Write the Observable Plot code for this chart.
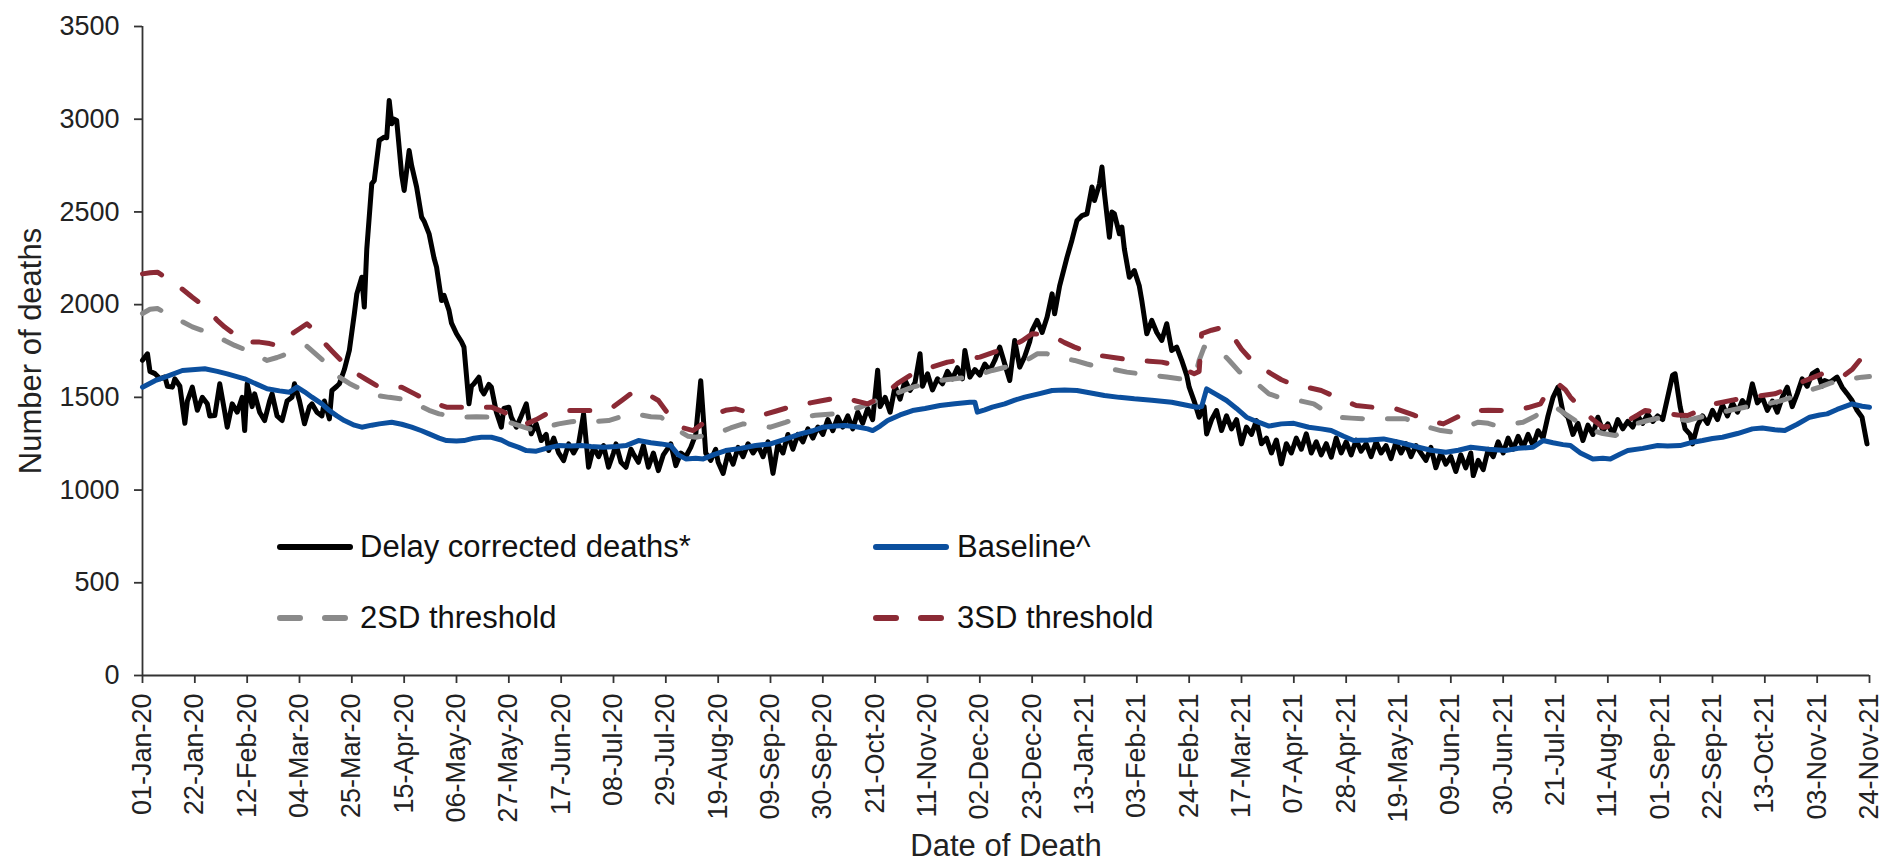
<!DOCTYPE html>
<html>
<head>
<meta charset="utf-8">
<script src="https://cdn.jsdelivr.net/npm/d3@7"></script>
<script src="https://cdn.jsdelivr.net/npm/@observablehq/plot@0.6"></script>
<style>
  html, body { margin: 0; padding: 0; background: #fff; }
  #chart { position: relative; width: 1883px; height: 868px; font-family: "Liberation Sans", Arial, sans-serif; }
  .legend-item { position: absolute; display: flex; align-items: center; height: 40px; }
  .legend-item span { font-size: 31px; color: #111; white-space: nowrap; }
</style>
</head>
<body>
<div id="chart"></div>
<script>
// ---- Data (day offset from start date, value) ----
const startDate = "2020-01-01";
const endDay = 693;          // 24-Nov-21
const tickStepDays = 21;
const yTicks = [0, 500, 1000, 1500, 2000, 2500, 3000, 3500];

const seriesNames = ["Delay corrected deaths*", "Baseline^", "2SD threshold", "3SD threshold"];

const delayCorrectedDeaths = [
[0,1700],[2,1735],[3,1640],[5,1628],[7,1600],[9,1610],[10,1560],[12,1555],[13,1600],[15,1560],[17,1360],[18,1480],[20,1555],[22,1430],[24,1500],[26,1465],[27,1400],[29,1402],[31,1573],[33,1420],[34,1339],[36,1465],[38,1420],[40,1500],[41,1321],[42,1573],[44,1450],[45,1519],[47,1420],[49,1375],[51,1480],[52,1519],[54,1400],[56,1375],[58,1480],[60,1500],[61,1573],[63,1480],[65,1358],[67,1450],[68,1465],[70,1420],[72,1400],[73,1480],[75,1384],[76,1537],[78,1560],[79,1573],[81,1650],[83,1753],[85,1950],[86,2058],[88,2148],[89,1987],[90,2300],[92,2652],[93,2670],[95,2886],[97,2903],[98,2900],[99,3101],[100,2975],[101,3000],[102,2993],[104,2700],[105,2616],[107,2831],[108,2750],[110,2634],[112,2472],[113,2450],[115,2382],[117,2250],[118,2202],[120,2022],[121,2050],[123,1969],[124,1900],[126,1843],[128,1800],[129,1771],[131,1465],[132,1560],[133,1573],[135,1609],[136,1540],[137,1519],[139,1570],[140,1555],[142,1420],[144,1339],[145,1440],[147,1447],[148,1393],[150,1339],[152,1400],[154,1465],[156,1303],[158,1357],[160,1267],[162,1300],[163,1213],[165,1280],[167,1200],[169,1159],[171,1249],[173,1200],[175,1250],[177,1411],[179,1123],[181,1231],[183,1180],[185,1240],[187,1123],[189,1200],[190,1249],[192,1150],[194,1123],[196,1220],[197,1195],[199,1150],[201,1240],[203,1123],[205,1200],[207,1105],[209,1190],[212,1249],[214,1132],[216,1200],[218,1180],[220,1230],[222,1300],[224,1590],[225,1400],[226,1200],[228,1160],[230,1220],[231,1150],[233,1090],[235,1200],[237,1140],[239,1230],[241,1180],[243,1250],[245,1200],[247,1240],[249,1180],[251,1260],[253,1090],[255,1250],[257,1200],[259,1300],[261,1220],[263,1300],[265,1260],[267,1330],[269,1280],[271,1340],[273,1300],[275,1380],[277,1320],[279,1393],[281,1340],[283,1400],[285,1330],[287,1420],[289,1360],[291,1440],[293,1380],[295,1646],[296,1450],[298,1500],[300,1420],[302,1560],[304,1490],[306,1591],[308,1537],[310,1580],[312,1735],[313,1560],[315,1627],[317,1540],[319,1600],[321,1573],[323,1640],[325,1600],[327,1660],[329,1600],[330,1753],[332,1609],[334,1650],[336,1620],[338,1680],[340,1645],[342,1700],[344,1771],[346,1680],[348,1591],[350,1807],[352,1663],[354,1720],[356,1800],[357,1861],[359,1915],[361,1850],[363,1933],[365,2058],[366,1951],[368,2100],[371,2256],[373,2350],[375,2454],[377,2480],[379,2490],[381,2634],[382,2562],[384,2650],[385,2742],[386,2600],[388,2364],[389,2500],[390,2490],[392,2382],[393,2418],[394,2300],[396,2148],[398,2184],[400,2100],[401,2022],[403,1843],[405,1915],[407,1850],[409,1807],[411,1897],[413,1753],[415,1771],[417,1700],[419,1620],[420,1555],[422,1480],[424,1393],[426,1450],[427,1303],[429,1380],[431,1429],[433,1321],[435,1400],[437,1330],[439,1380],[441,1249],[443,1340],[445,1300],[447,1375],[449,1250],[451,1280],[453,1200],[455,1270],[457,1141],[459,1250],[461,1200],[463,1280],[465,1220],[467,1303],[469,1200],[471,1260],[473,1190],[475,1250],[477,1177],[479,1280],[481,1200],[483,1260],[485,1190],[487,1270],[489,1210],[491,1250],[493,1180],[495,1260],[497,1200],[499,1240],[501,1170],[503,1260],[505,1200],[507,1250],[509,1180],[511,1240],[513,1200],[515,1160],[517,1230],[519,1120],[521,1200],[523,1140],[525,1180],[527,1100],[529,1190],[531,1120],[533,1200],[534,1078],[536,1160],[538,1110],[540,1220],[542,1180],[544,1260],[546,1200],[548,1280],[550,1220],[552,1290],[554,1230],[556,1300],[558,1240],[560,1320],[562,1280],[564,1400],[566,1500],[568,1555],[570,1420],[572,1393],[574,1300],[576,1360],[578,1267],[580,1350],[582,1300],[584,1393],[586,1320],[588,1357],[590,1300],[592,1380],[594,1330],[596,1370],[598,1340],[600,1400],[602,1360],[604,1410],[606,1370],[608,1400],[610,1380],[612,1500],[614,1620],[615,1627],[617,1450],[619,1330],[621,1300],[622,1249],[624,1350],[626,1400],[628,1360],[630,1430],[632,1380],[634,1460],[636,1400],[638,1470],[640,1420],[642,1483],[644,1450],[646,1573],[648,1470],[650,1500],[652,1430],[654,1480],[656,1420],[658,1500],[660,1555],[662,1450],[664,1520],[666,1600],[668,1560],[670,1627],[672,1645],[674,1560],[675,1591],[677,1580],[680,1609],[682,1555],[684,1520],[686,1483],[688,1430],[690,1393],[692,1249]
];

const baseline = [
[0,1555],[5,1590],[9,1609],[16,1645],[25,1654],[30,1640],[34,1627],[41,1600],[46,1570],[50,1546],[55,1535],[59,1528],[62,1555],[65,1530],[68,1501],[72,1465],[75,1429],[78,1400],[81,1375],[85,1350],[88,1339],[92,1350],[95,1357],[100,1366],[104,1355],[108,1339],[112,1320],[115,1303],[119,1280],[122,1267],[126,1265],[129,1267],[133,1280],[136,1285],[140,1285],[144,1270],[147,1249],[151,1230],[154,1213],[158,1210],[162,1225],[167,1240],[172,1238],[176,1240],[180,1235],[185,1231],[190,1235],[194,1240],[199,1267],[204,1255],[208,1249],[212,1240],[215,1190],[218,1168],[222,1172],[225,1168],[229,1190],[234,1213],[240,1225],[246,1240],[252,1249],[258,1275],[264,1303],[269,1320],[273,1339],[278,1345],[282,1348],[287,1340],[291,1330],[293,1321],[296,1345],[299,1375],[304,1405],[309,1429],[314,1440],[320,1456],[326,1465],[332,1474],[334,1474],[335,1420],[338,1432],[341,1447],[346,1465],[350,1485],[354,1501],[360,1520],[365,1537],[370,1540],[375,1537],[380,1525],[386,1510],[392,1500],[398,1492],[405,1485],[413,1474],[418,1460],[423,1447],[425,1450],[427,1546],[431,1515],[435,1483],[439,1440],[443,1393],[447,1370],[452,1345],[457,1357],[462,1360],[468,1339],[473,1330],[477,1321],[482,1290],[486,1267],[492,1270],[498,1276],[505,1255],[512,1231],[517,1215],[523,1204],[528,1215],[533,1231],[540,1220],[547,1213],[552,1225],[558,1231],[562,1267],[566,1255],[570,1245],[573,1240],[577,1200],[582,1168],[586,1172],[589,1168],[593,1195],[596,1213],[602,1225],[608,1240],[612,1238],[617,1240],[621,1255],[626,1267],[630,1278],[634,1285],[640,1305],[646,1330],[650,1335],[655,1325],[659,1321],[664,1355],[669,1393],[673,1405],[676,1411],[680,1435],[686,1465],[690,1452],[693,1447]
];

const threshold2SD = [
[0,1952],[3,1975],[6,1979],[10,1950],[15,1915],[20,1880],[24,1861],[28,1835],[33,1807],[37,1780],[42,1753],[46,1725],[50,1699],[54,1715],[58,1735],[62,1755],[66,1775],[69,1740],[74,1681],[79,1609],[83,1575],[86,1555],[90,1530],[94,1510],[99,1500],[104,1492],[108,1475],[111,1456],[115,1430],[119,1411],[124,1400],[129,1393],[134,1395],[140,1393],[145,1375],[149,1357],[154,1335],[158,1321],[162,1340],[167,1357],[172,1368],[176,1375],[182,1370],[187,1375],[192,1395],[196,1411],[200,1405],[204,1395],[208,1393],[212,1350],[215,1321],[219,1290],[222,1285],[226,1295],[230,1303],[236,1335],[241,1357],[246,1350],[252,1339],[258,1365],[264,1393],[270,1403],[277,1411],[282,1430],[288,1447],[293,1475],[298,1501],[304,1530],[309,1555],[315,1575],[320,1591],[326,1600],[331,1609],[336,1625],[341,1645],[347,1665],[352,1681],[356,1710],[359,1735],[363,1735],[368,1715],[374,1699],[379,1680],[384,1663],[390,1650],[395,1636],[400,1628],[406,1618],[411,1610],[416,1600],[420,1605],[423,1645],[424,1700],[426,1771],[429,1762],[432,1755],[436,1700],[440,1640],[444,1600],[448,1565],[452,1519],[456,1500],[460,1492],[465,1480],[470,1465],[474,1430],[479,1393],[485,1388],[491,1384],[499,1384],[507,1384],[512,1360],[517,1335],[521,1321],[526,1312],[531,1340],[536,1366],[540,1360],[543,1348],[548,1355],[554,1366],[559,1400],[564,1447],[568,1438],[571,1410],[575,1375],[578,1345],[582,1321],[586,1305],[591,1294],[595,1325],[599,1357],[604,1375],[610,1393],[615,1385],[620,1375],[625,1393],[631,1411],[637,1430],[643,1447],[652,1465],[657,1480],[662,1501],[667,1530],[673,1555],[677,1575],[681,1591],[686,1600],[690,1609],[693,1612]
];

const threshold3SD = [
[0,2166],[3,2172],[6,2175],[10,2140],[15,2094],[20,2040],[24,2000],[27,1960],[30,1915],[33,1879],[37,1840],[42,1798],[47,1798],[51,1790],[54,1780],[57,1815],[60,1843],[63,1870],[66,1897],[69,1860],[72,1807],[76,1750],[81,1681],[85,1636],[90,1595],[95,1555],[100,1555],[104,1555],[109,1520],[113,1492],[118,1465],[122,1447],[127,1447],[131,1447],[136,1447],[140,1447],[145,1420],[149,1393],[154,1357],[158,1380],[162,1410],[167,1429],[172,1429],[176,1429],[181,1429],[185,1429],[189,1450],[193,1490],[196,1520],[199,1537],[203,1515],[207,1483],[211,1410],[216,1339],[221,1321],[226,1370],[230,1411],[234,1430],[238,1438],[243,1420],[248,1402],[254,1425],[259,1445],[263,1456],[268,1470],[273,1483],[280,1501],[285,1485],[291,1465],[295,1490],[298,1519],[303,1575],[309,1627],[316,1660],[323,1690],[330,1705],[336,1717],[342,1745],[348,1771],[353,1805],[357,1843],[362,1838],[366,1825],[370,1795],[374,1771],[379,1745],[384,1726],[391,1712],[398,1699],[404,1695],[409,1690],[413,1678],[416,1663],[419,1645],[422,1627],[424,1640],[425,1843],[429,1862],[434,1879],[438,1820],[441,1760],[445,1700],[449,1660],[453,1627],[457,1595],[461,1573],[467,1555],[473,1537],[480,1495],[487,1456],[495,1445],[503,1438],[510,1405],[515,1380],[519,1366],[522,1357],[527,1390],[533,1429],[540,1430],[546,1429],[550,1429],[556,1445],[561,1465],[564,1537],[568,1573],[571,1540],[573,1501],[576,1460],[578,1429],[582,1380],[586,1339],[591,1350],[596,1375],[600,1405],[603,1429],[608,1420],[612,1411],[616,1405],[620,1402],[625,1430],[631,1465],[638,1485],[645,1501],[650,1510],[655,1519],[660,1545],[664,1573],[669,1600],[674,1627],[678,1620],[682,1610],[686,1650],[689,1699],[693,1672]
];

// ---- Build ----
const start = new Date(startDate + "T00:00:00Z");
const toDate = d => d3.utcDay.offset(start, d);
const end = toDate(endDay);
const xTicks = d3.range(0, endDay + 1, tickStepDays).map(toDate);

const seriesData = [delayCorrectedDeaths, baseline, threshold2SD, threshold3SD];
const styles = [
  {stroke: "#000000", strokeWidth: 5, dash: null},
  {stroke: "#0b4f9e", strokeWidth: 5, dash: null},
  {stroke: "#8a8a8a", strokeWidth: 5, dash: "20,25"},
  {stroke: "#8b2a35", strokeWidth: 5, dash: "20,25"}
];

const rows = seriesData.map((arr, i) => arr.map(([d, v]) => ({date: toDate(d), value: v, series: seriesNames[i]})));

const lineMarks = rows.map((r, i) => Plot.line(r, {
  x: "date", y: "value",
  stroke: styles[i].stroke,
  strokeWidth: styles[i].strokeWidth,
  strokeDasharray: styles[i].dash || undefined,
  strokeLinecap: "round",
  strokeLinejoin: "round"
}));

const chart = Plot.plot({
  width: 1883,
  height: 868,
  marginLeft: 142,
  marginRight: 14,
  marginTop: 26,
  marginBottom: 193,
  style: {fontFamily: "'Liberation Sans', Arial, sans-serif", fontSize: "27px", color: "#222", background: "#fff"},
  x: {type: "utc", domain: [start, end]},
  y: {domain: [0, 3500]},
  marks: [
    Plot.axisY({ticks: yTicks, tickFormat: d => String(d), tickSize: 8, tickPadding: 15, label: null, fontSize: 27, strokeWidth: 1.8, stroke: "#333"}),
    Plot.axisX({ticks: xTicks, tickFormat: d3.utcFormat("%d-%b-%y"), tickRotate: -90, tickSize: 8, tickPadding: 10, label: null, fontSize: 27, strokeWidth: 1.8, stroke: "#333"}),
    Plot.ruleX([start], {stroke: "#333", strokeWidth: 1.8}),
    Plot.ruleY([0], {stroke: "#333", strokeWidth: 1.8}),
    ...lineMarks,
    Plot.text(["Number of deaths"], {text: d => d, frameAnchor: "left", textAnchor: "middle", lineAnchor: "middle", rotate: -90, dx: -111, fontSize: 31, fill: "#222"}),
    Plot.text(["Date of Death"], {text: d => d, frameAnchor: "bottom", textAnchor: "middle", lineAnchor: "middle", dy: 171, fontSize: 31, fill: "#222"})
  ]
});

const container = document.getElementById("chart");
container.appendChild(chart);

// ---- Legend (overlay inside plot area, 2 columns x 2 rows) ----
const legendLeft = 276.5, legendColGap = 596, legendTop = 547, legendRowGap = 70.5;
seriesNames.forEach((name, i) => {
  const col = i % 2, row = Math.floor(i / 2);
  const item = document.createElement("div");
  item.className = "legend-item";
  item.style.left = (legendLeft + col * legendColGap) + "px";
  item.style.top = (legendTop + row * legendRowGap - 20) + "px";
  const ns = "http://www.w3.org/2000/svg";
  const svg = document.createElementNS(ns, "svg");
  svg.setAttribute("width", "76");
  svg.setAttribute("height", "12");
  const ln = document.createElementNS(ns, "line");
  ln.setAttribute("x1", "3"); ln.setAttribute("x2", "73");
  ln.setAttribute("y1", "6"); ln.setAttribute("y2", "6");
  ln.setAttribute("stroke", styles[i].stroke);
  ln.setAttribute("stroke-width", "6");
  ln.setAttribute("stroke-linecap", "round");
  if (styles[i].dash) ln.setAttribute("stroke-dasharray", styles[i].dash);
  svg.appendChild(ln);
  const span = document.createElement("span");
  span.textContent = name;
  span.style.marginLeft = (col === 0 ? 7.5 : 8.5) + "px";
  item.appendChild(svg);
  item.appendChild(span);
  container.appendChild(item);
});
</script>
</body>
</html>
